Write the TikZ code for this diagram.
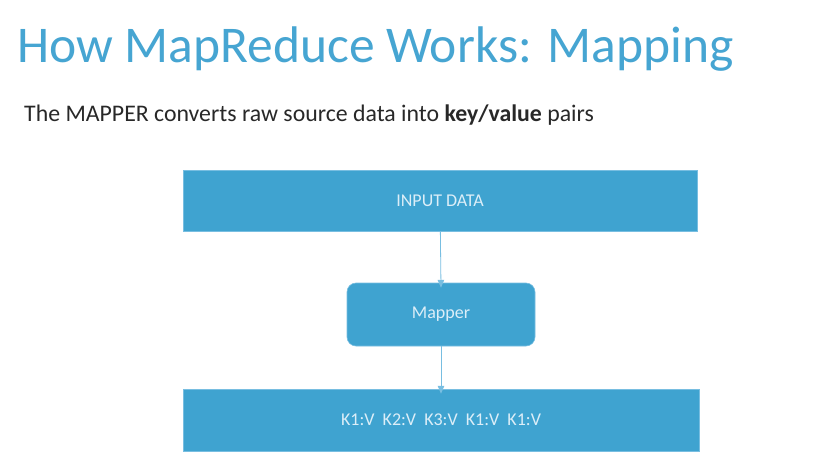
\documentclass[tikz,border=0pt]{standalone}
\usepackage{fontspec}
\setmainfont{Carlito}
\usepackage{tikz}
\usetikzlibrary{arrows,shapes}
\definecolor{slideblue}{RGB}{63,163,208}
\definecolor{titleblue}{RGB}{70,165,210}
\definecolor{boxedge}{RGB}{120,190,225}
\definecolor{boxtext}{RGB}{220,238,248}
\definecolor{bodytext}{RGB}{40,40,40}
\tikzstyle{block}=[rectangle, fill=slideblue, draw=boxedge
,line width=0.6pt
,text=boxtext
,font=\fontsize{18}{22}\selectfont
,inner sep=0pt
]
\tikzstyle{flow} = [draw,line width=0.8pt,boxedge,-triangle 45]

\begin{document}
\begin{tikzpicture}[x=1pt,y=-1pt]
    % Page frame
    \useasboundingbox[fill=white] (0,0) rectangle (820,469);
    % Title and subtitle
    \node[anchor=base west, text=titleblue, inner sep=0pt, font=\fontsize{51.5}{60}\selectfont] (title) at (17,62) {How MapReduce Works: Mapping};
    \node[anchor=base west, text=bodytext, inner sep=0pt, font=\fontsize{23.8}{28}\selectfont] (subtitle) at (24,121) {The MAPPER converts raw source data into \textbf{key/value} pairs};

    % The three blocks
    \node[block, minimum width=514pt, minimum height=61pt] (input) at (440,200.5) {INPUT DATA};
    \node[block, rounded corners=9pt, minimum width=188pt, minimum height=63pt] (mapper) at (441,314.5) {Mapper};
    \node[block, minimum width=516pt, minimum height=62pt] (output) at (441,420) {K1:V\hspace{0.45em}K2:V\hspace{0.45em}K3:V\hspace{0.45em}K1:V\hspace{0.45em}K1:V};

    % Connect blocks with arrows
    \foreach \source/\dest in {input/mapper, mapper/output}
        \path[flow] (\source) -- ([yshift=-5pt]\dest.north);

\end{tikzpicture}
\end{document}
